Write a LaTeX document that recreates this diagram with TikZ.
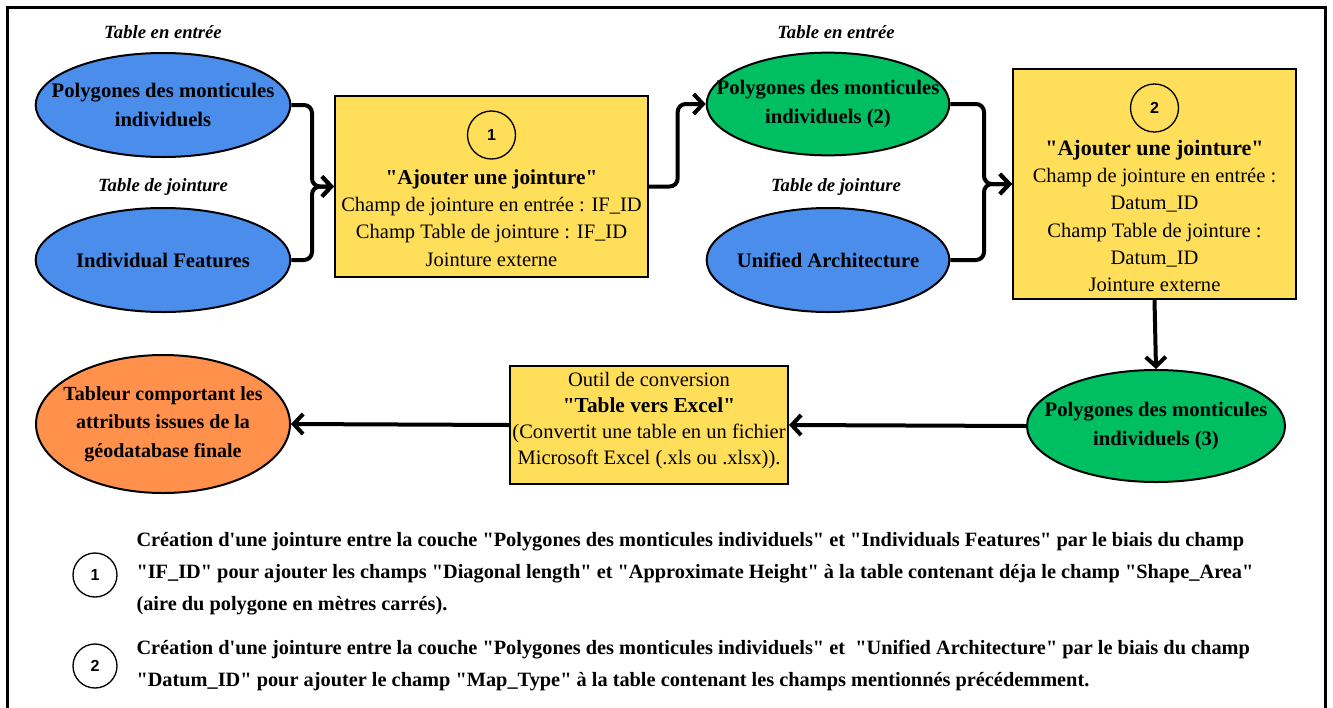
\documentclass[tikz,border=0pt]{standalone}
\usepackage{fontspec}
\setmainfont{Liberation Serif}[Ligatures=TeXOff]
\newfontfamily\numfont{Liberation Sans}
\usetikzlibrary{shapes.geometric,arrows.meta}

\definecolor{tblblue}{HTML}{4A8DEA}
\definecolor{tblgreen}{HTML}{00BF63}
\definecolor{tblorange}{HTML}{FF914D}
\definecolor{toolyellow}{HTML}{FFDE59}

\tikzset{every picture/.style={line width=0.75pt}}
\tikzset{
  tbl/.style={ellipse, draw=black, line width=1.5pt, align=center, inner sep=-40pt,
    font=\fontsize{15.5}{21.5}\selectfont\bfseries},
  tbllabel/.style={inner sep=0.75pt, font=\fontsize{14}{16}\selectfont\bfseries\itshape},
  tool/.style={rectangle, draw=black, line width=1.5pt, fill=toolyellow, inner sep=0pt},
  tooltext/.style={inner sep=0.75pt, align=center, font=\fontsize{15.4}{20.5}\selectfont},
  toolnum/.style={circle, draw=black, line width=1pt, minimum size=36pt, inner sep=0pt,
    font=\numfont\bfseries\fontsize{12}{14}\selectfont},
  flow/.style={line width=3pt, rounded corners=6pt, -{Straight Barb[length=7pt,width=15pt]}},
  legtext/.style={inner sep=0.75pt, anchor=west, align=left, font=\fontsize{15.25}{24}\selectfont\bfseries},
}

\begin{document}
\begin{tikzpicture}[x=0.75pt,y=0.75pt,yscale=-1,xscale=1]
    \useasboundingbox (0,0) rectangle (1333,707);

    %Frame
    \draw[line width=2.25pt] (7,715) -- (7,7) -- (1325,7) -- (1325,715);

    %Input tables (1)
    \node[tbllabel] (lblin1) at (163,32) {Table en entrée};
    \node[tbl, fill=tblblue, minimum width=191pt, minimum height=78pt] (pmi) at (163,105) {Polygones des monticules\\individuels};
    \node[tbllabel] (lbljoin1) at (163,187) {Table de jointure};
    \node[tbl, fill=tblblue, minimum width=191pt, minimum height=78pt] (ifeat) at (163,260) {Individual Features};

    %Tool: Ajouter une jointure (1)
    \node[tool, minimum width=234.75pt, minimum height=135.75pt] (join1) at (491.5,186.5) {};
    \node[toolnum] (num1) at (491.5,135) {1};
    \node[tooltext] (txt1) at (491.5,218) {{\bfseries\fontsize{16}{20.5}\selectfont "Ajouter une jointure"}\\Champ de jointure en entrée : IF\_ID\\Champ Table de jointure : IF\_ID\\Jointure externe};

    %Input tables (2)
    \node[tbllabel] (lblin2) at (836,32) {Table en entrée};
    \node[tbl, fill=tblgreen, minimum width=182pt, minimum height=77pt] (pmi2) at (828,104) {Polygones des monticules\\individuels (2)};
    \node[tbllabel] (lbljoin2) at (836,187) {Table de jointure};
    \node[tbl, fill=tblblue, minimum width=182pt, minimum height=78pt] (uarch) at (828,260) {Unified Architecture};

    %Tool: Ajouter une jointure (2)
    \node[tool, minimum width=212.25pt, minimum height=172.5pt] (join2) at (1154.5,184) {};
    \node[toolnum] (num2) at (1154.5,108) {2};
    \node[tooltext] (txt2) at (1154.5,216) {{\bfseries\fontsize{16.5}{20.5}\selectfont "Ajouter une jointure"}\\Champ de jointure en entrée :\\Datum\_ID\\Champ Table de jointure :\\Datum\_ID\\Jointure externe};

    %Result and export
    \node[tbl, fill=tblgreen, minimum width=193.5pt, minimum height=84pt] (pmi3) at (1156,426) {Polygones des monticules\\individuels (3)};
    \node[tool, minimum width=208.5pt, minimum height=88.5pt] (conv) at (649,425) {};
    \node[tooltext, font=\fontsize{15.4}{19.5}\selectfont] (txt3) at (649,420.5) {Outil de conversion\\{\bfseries\fontsize{16}{19.5}\selectfont "Table vers Excel"}\\(Convertit une table en un fichier\\Microsoft Excel (.xls ou .xlsx)).};
    \node[tbl, fill=tblorange, minimum width=190.5pt, minimum height=103.5pt, font=\fontsize{15}{21.5}\selectfont\bfseries] (xls) at (163,424) {Tableur comportant les\\attributs issues de la\\géodatabase finale};

    %Connectors
    \draw[flow] (pmi.east) -| ([xshift=-16.5pt]join1.west) -- (join1.west);
    \draw[flow] (ifeat.east) -| ([xshift=-16.5pt]join1.west) -- (join1.west);
    \draw[flow] (join1.east) -| ([xshift=-21pt]pmi2.west) -- (pmi2.west);
    \draw[flow] (pmi2.east) -| ([xshift=-21pt]join2.west) -- (join2.west);
    \draw[flow] (uarch.east) -| ([xshift=-21pt]join2.west) -- (join2.west);
    \draw[flow] (join2.south) -- (pmi3.north);
    \draw[flow] (pmi3.west) -- (conv.east);
    \draw[flow] (conv.west) -- (xls.east);

    %Legend
    \node[toolnum, minimum size=33pt] (leg1) at (95,575) {1};
    \node[legtext] (legtxt1) at (135,574) {Création d'une jointure entre la couche "Polygones des monticules individuels" et "Individuals Features" par le biais du champ\\"IF\_ID" pour ajouter les champs "Diagonal length" et "Approximate Height" à la table contenant déja le champ "Shape\_Area"\\(aire du polygone en mètres carrés).};
    \node[toolnum, minimum size=33pt] (leg2) at (95,666) {2};
    \node[legtext] (legtxt2) at (135,666) {Création d'une jointure entre la couche "Polygones des monticules individuels" et \ "Unified Architecture" par le biais du champ\\"Datum\_ID" pour ajouter le champ "Map\_Type" à la table contenant les champs mentionnés précédemment.};

\end{tikzpicture}
\end{document}
